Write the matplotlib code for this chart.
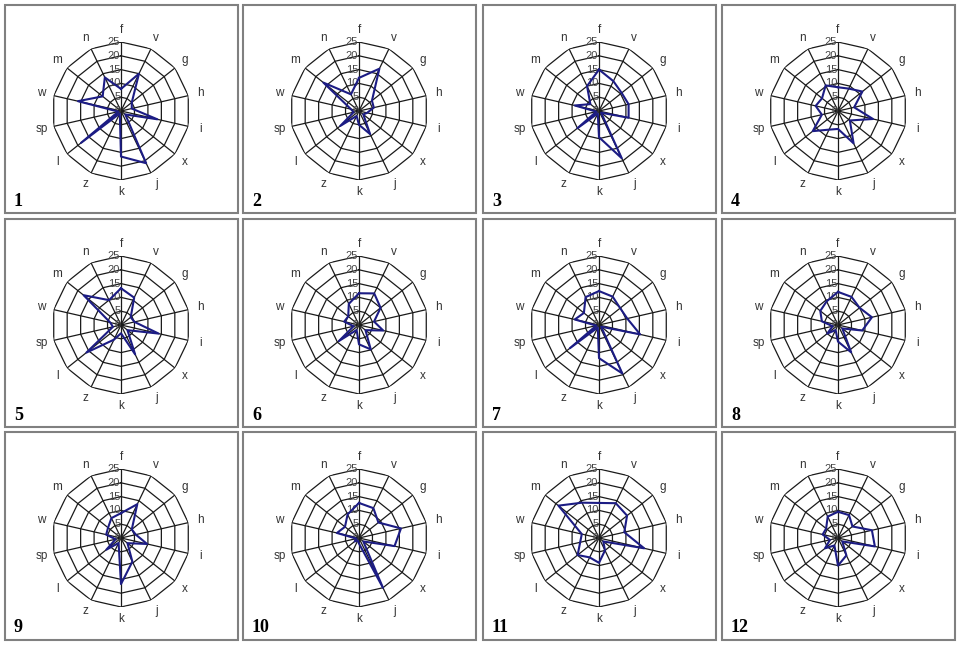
import matplotlib
matplotlib.use("Agg")
import matplotlib.pyplot as plt
from matplotlib.patches import Rectangle
import numpy as np

plt.rcParams['font.family'] = ['Liberation Sans', 'DejaVu Sans']

cats = ['f', 'v', 'g', 'h', 'i', 'x', 'j', 'k', 'z', 'l', 'sp', 'w', 'm', 'n']
rings = [5, 10, 15, 20, 25]
rticks = [0, 5, 10, 15, 20, 25]
panel_ids = ['1', '2', '3', '4', '5', '6', '7', '8', '9', '10', '11', '12']

#        f     v     g     h     i     x    j     k     z    l     sp   w     m     n
p1 =  [8,    15,   5,    4,    13.5, 2,   21,   16.5, 1,   18.5, 1,   16,   8.5,  13.5]
p2 =  [12,   17,   6,    5.5,  3,    2,   9.3,  5,    2,   8.7,  2,   3,    16.5, 6.7]
p3 =  [15,   12,   10.5, 11,   11,   1,   19,   9.5,  1,   10,   1,   9,    4,    10]
p4 =  [8.6,  9,    11.3, 6,    13,   5.5, 13,   6.5,  7.5, 11.7, 6,   8.3,  7.4,  10.3]
p5 =  [13.3, 11,   4.5,  5,    14,   3,   11.8, 3,    5.9, 16,   3,   4,    17.3, 10]
p6 =  [11.5, 12.7, 10,   5.6,  9,    3,   9.8,  7,    2,   9.3,  2,   5.5,  5,    8.5]
p7 =  [12.3, 11.4, 9.8,  10.5, 15.3, 1,   19.5, 12,   1,   13.5, 1,   9,    7,    11.2]
p8 =  [12,   11.3, 10,   12.6, 9,    2,   11,   6,    2,   5,    2,   6,    8.2,  9.5]
p9 =  [9,    13.6, 5,    5.5,  9.7,  3,   9.5,  16.7, 2,   6.8,  2,   5.5,  6,    8]
p10 = [12.7, 12,   9,    15.6, 13.2, 2,   20,   2,    1,   2,    1,   8.2,  6.5,  9.5]
p11 = [12.7, 14,   13,   9.4,  16.8, 2,   5,    9,    7.8, 9.9,  7,   6.4,  18.8, 14.2]
p12 = [9.5,  9.2,  6.7,  12.6, 13.7, 2,   7,    10,   3,   6,    3,   5.7,  5.5,  8.6]
panels = [p1, p2, p3, p4, p5, p6, p7, p8, p9, p10, p11, p12]

W, H = 961, 647
fig = plt.figure(figsize=(W / 100, H / 100), dpi=100)

col_left = [5, 243, 483, 722]
row_top = [5, 219, 432]
box_w, box_h = 233, 208
R = 69  # outer radius in px

angles = np.linspace(0, 2 * np.pi, len(cats), endpoint=False)
closed = np.append(angles, angles[0])

for idx, vals in enumerate(panels):
    r, c = divmod(idx, 4)
    x0, y0 = col_left[c], row_top[r]
    fig.add_artist(Rectangle((x0 / W, 1 - (y0 + box_h) / H), box_w / W, box_h / H,
                             transform=fig.transFigure, fill=False,
                             edgecolor='#808080', lw=1.5))
    cx, cy = x0 + 116, y0 + 106
    ax = fig.add_axes([(cx - R) / W, 1 - (cy + R) / H, 2 * R / W, 2 * R / H],
                      projection='polar')
    ax.set_theta_zero_location('N')
    ax.set_theta_direction(-1)
    ax.set_ylim(0, 25)
    ax.grid(False)
    ax.spines['polar'].set_visible(False)
    ax.set_xticks([])
    ax.set_yticks([])
    ax.patch.set_alpha(0)

    for rv in rings:
        ax.plot(closed, [rv] * len(closed), color='#1a1a1a', lw=0.9, zorder=1)
    for a in angles:
        ax.plot([a, a], [0, 25], color='#1a1a1a', lw=0.9, zorder=1)

    for a, lab in zip(angles, cats):
        ax.text(a, 29.5, lab, ha='center', va='center', fontsize=8.5,
                color='#333333', clip_on=False)
    for t in rticks:
        ax.text(-0.02, t, str(t), ha='right', va='center', fontsize=8,
                color='#444444', zorder=2)

    ax.plot(closed, vals + vals[:1], color='#1c1c84', lw=1.5, zorder=3)

    fig.text((x0 + 9) / W, 1 - (y0 + 196) / H, panel_ids[idx], fontsize=13,
             fontweight='bold', family=['Liberation Serif', 'DejaVu Serif'],
             ha='left', va='center')

fig.savefig('out.png', dpi=100)
